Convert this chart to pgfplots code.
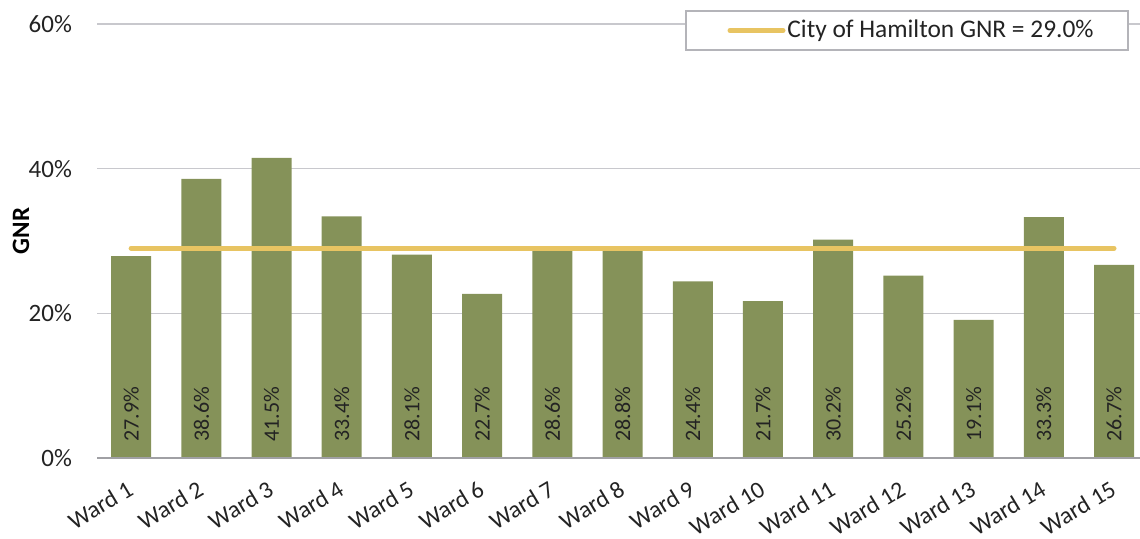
\documentclass[border=0pt]{standalone}
\usepackage{pgfplots}
\pgfplotsset{compat=1.18}
\usepackage{pgfplotstable}
\usepackage{fontspec}
\setmainfont{Carlito}
\definecolor{barcol}{RGB}{133,146,89}
\definecolor{linecol}{RGB}{232,196,98}
\definecolor{gridcol}{RGB}{200,200,205}
\definecolor{txt}{RGB}{35,35,35}
\pgfplotstableread{
x y label
0 27.9 27.9\%
1 38.6 38.6\%
2 41.5 41.5\%
3 33.4 33.4\%
4 28.1 28.1\%
5 22.7 22.7\%
6 28.6 28.6\%
7 28.8 28.8\%
8 24.4 24.4\%
9 21.7 21.7\%
10 30.2 30.2\%
11 25.2 25.2\%
12 19.1 19.1\%
13 33.3 33.3\%
14 26.7 26.7\%
}\wards
\begin{document}
\begin{tikzpicture}[x=1pt,y=1pt]
\path[use as bounding box] (0,0) rectangle (570,269.5);
\begin{axis}[
  at={(48.5pt,40.5pt)}, anchor=south west,
  scale only axis, width=521.5pt, height=217pt,
  xmin=-0.486, xmax=14.37,
  ymin=0, ymax=60,
  ytick={0,20,40,60},
  yticklabel={\pgfmathprintnumber{\tick}\%},
  /pgf/number format/assume math mode=true,
  yticklabel style={font=\fontsize{12.5}{14}\selectfont, xshift=-9pt, text=txt},
  ymajorgrids, grid style={gridcol, line width=0.7pt},
  axis line style={draw=none},
  tick style={draw=none},
  xtick={0,...,14},
  xticklabels={Ward 1,Ward 2,Ward 3,Ward 4,Ward 5,Ward 6,Ward 7,Ward 8,Ward 9,Ward 10,Ward 11,Ward 12,Ward 13,Ward 14,Ward 15},
  xticklabel style={font=\fontsize{12}{14}\selectfont, rotate=31, anchor=north east, inner sep=0pt, xshift=-7.5pt, yshift=-7.8pt, text=txt},
  clip=false,
]
\addplot[ybar, bar width=20pt, fill=barcol, draw=none] table[x=x,y=y] {\wards};
\draw[gridcol!80!black, line width=0.8pt] (axis cs:-0.486,0) -- (axis cs:14.37,0);
\addplot[draw=none, mark=none, nodes near coords, point meta=explicit symbolic,
  every node near coord/.style={rotate=90, anchor=west, inner sep=0pt, font=\fontsize{11}{13}\selectfont, text=txt}]
  table[x=x, y expr=2.2, meta=label] {\wards};
\addplot[linecol, line width=2.5pt, line cap=round] coordinates {(0,29) (14,29)};
\end{axis}
\node[rotate=90, font=\bfseries\fontsize{12.5}{14}\selectfont, text=black, inner sep=0pt] at (10.5,154) {GNR};
\draw[gridcol!90!black, line width=0.7pt, fill=white] (343,264) rectangle (564,244.5);
\draw[linecol, line width=2.5pt, line cap=round] (365,254.25) -- (391.5,254.25);
\node[anchor=west, inner sep=0pt, font=\fontsize{12.7}{14}\selectfont, text=txt] at (393.5,254.25) {City of Hamilton GNR = 29.0\%};
\end{tikzpicture}
\end{document}
